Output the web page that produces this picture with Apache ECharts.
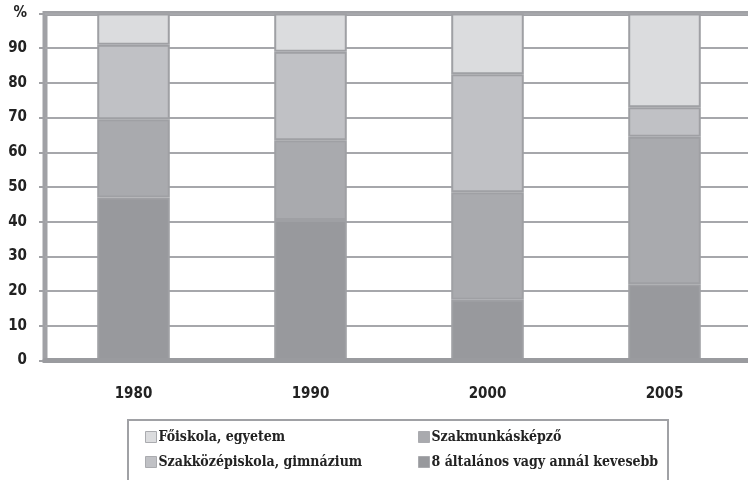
<!DOCTYPE html>
<html>
<head>
<meta charset="utf-8">
<script src="https://cdn.jsdelivr.net/npm/echarts@6/dist/echarts.min.js"></script>
<style>
  html, body { margin: 0; padding: 0; background: #fff; }
  #chart { width: 748px; height: 480px; }
</style>
</head>
<body>
<div id="chart"></div>
<script>
// Educational attainment shares (%), stacked per year
const years = ['1980', '1990', '2000', '2005'];
const elementary = [47, 40.5, 17.5, 22];        // 8 általános vagy annál kevesebb
const vocational = [22.5, 23, 31, 42.5];        // Szakmunkásképző
const secondary = [21.5, 25.5, 34, 8.5];        // Szakközépiskola, gimnázium
const college = [9, 11, 17.5, 27];              // Főiskola, egyetem
const yTicks = [0, 10, 20, 30, 40, 50, 60, 70, 80, 90, 100];

const names = {
  college: 'Főiskola, egyetem',
  vocational: 'Szakmunkásképző',
  secondary: 'Szakközépiskola, gimnázium',
  elementary: '8 általános vagy annál kevesebb'
};

const colors = {
  elementary: '#98999d',
  vocational: '#a9aaae',
  secondary: '#c0c1c5',
  college: '#dbdcde'
};

const edge = '#9fa0a4';
const axisFont = 'DejaVu Sans Condensed';
const legendFont = 'DejaVu Serif Condensed';

function bar(key, data) {
  return {
    name: names[key],
    type: 'bar',
    stack: 'total',
    barWidth: '41%',
    data: data,
    itemStyle: { color: colors[key], borderColor: edge, borderWidth: 2 }
  };
}

const legendText = {
  fontFamily: legendFont, fontWeight: 'bold', fontSize: 14, color: '#222', padding: [0, 0, 0, -3]
};

const chart = echarts.init(document.getElementById('chart'));
chart.setOption({
  animation: false,
  backgroundColor: '#ffffff',
  // the plot runs a little past the right edge of the canvas
  grid: {
    left: 45, right: -5, top: 13.5, bottom: 119.5,
    outerBoundsMode: 'none',
    containLabel: false,
    show: true, borderColor: '#a0a1a5', borderWidth: 5, backgroundColor: 'transparent'
  },
  xAxis: {
    type: 'category',
    data: years,
    axisTick: { show: false },
    axisLine: { lineStyle: { color: '#9a9b9f', width: 5 } },
    axisLabel: {
      margin: 26, color: '#222', fontFamily: axisFont, fontWeight: 'bold', fontSize: 15
    },
    z: 5
  },
  yAxis: {
    type: 'value',
    min: yTicks[0],
    max: yTicks[yTicks.length - 1],
    interval: 10,
    axisLine: { show: false },
    axisTick: { show: true, length: 6, lineStyle: { color: '#a0a1a5', width: 2 } },
    splitLine: { lineStyle: { color: '#a6a7ab', width: 2 } },
    axisLabel: {
      margin: 18, color: '#222', fontFamily: axisFont, fontWeight: 'bold', fontSize: 15,
      formatter: v => (v === 100 ? '%' : String(v))
    }
  },
  legend: [
    {
      orient: 'vertical', left: 140, top: 425, itemGap: 11,
      itemWidth: 11, itemHeight: 11, icon: 'rect',
      data: [names.college, names.secondary],
      itemStyle: { borderColor: '#aaabaf', borderWidth: 1 },
      textStyle: legendText
    },
    {
      orient: 'vertical', left: 413, top: 425, itemGap: 11,
      itemWidth: 11, itemHeight: 11, icon: 'rect',
      data: [names.vocational, names.elementary],
      itemStyle: { borderColor: '#aaabaf', borderWidth: 1 },
      textStyle: legendText
    }
  ],
  graphic: [{
    type: 'rect',
    shape: { x: 128, y: 420, width: 540, height: 80 },
    style: { fill: 'none', stroke: '#a0a1a5', lineWidth: 2 },
    silent: true
  }],
  series: [
    bar('elementary', elementary),
    bar('vocational', vocational),
    bar('secondary', secondary),
    bar('college', college)
  ]
});
</script>
</body>
</html>
